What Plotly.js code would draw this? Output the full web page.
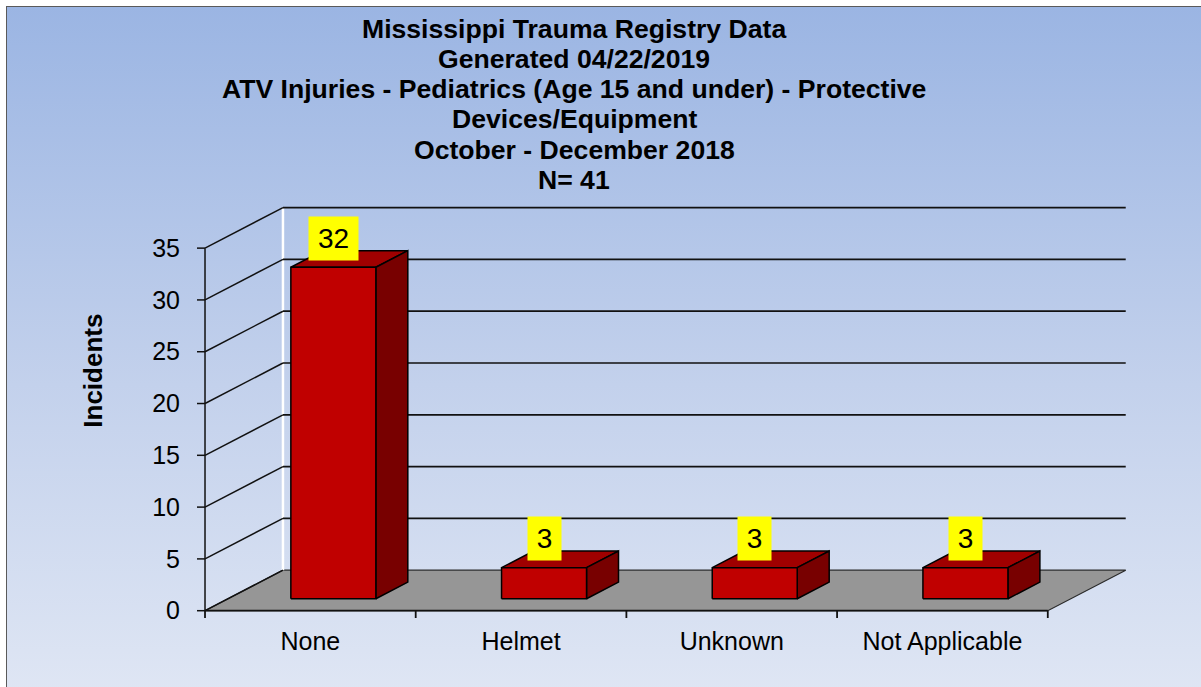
<!DOCTYPE html>
<html><head><meta charset="utf-8">
<script src="https://cdn.plot.ly/plotly-3.0.1.min.js"></script>
<style>
html,body{margin:0;padding:0;background:#fff;overflow:hidden;}
#bg{position:absolute;left:6px;top:6px;width:1201px;height:687px;border-left:1.5px solid #5a5a5a;border-top:1.5px solid #5a5a5a;background:linear-gradient(to bottom,#9bb5e3 0%,#c3d1ec 55%,#dfe6f4 100%);}
#chart{position:absolute;left:0;top:0;width:1201px;height:687px;}
</style></head><body>
<div id="bg"></div><div id="chart"></div>
<script>
// ---- data ----
const categories = ['None', 'Helmet', 'Unknown', 'Not Applicable'];
const incidents = [32, 3, 3, 3];
const yTickValues = [0, 5, 10, 15, 20, 25, 30, 35];
const titleLines = [
  'Mississippi Trauma Registry Data',
  'Generated 04/22/2019',
  'ATV Injuries - Pediatrics (Age 15 and under) - Protective',
  'Devices/Equipment',
  'October - December 2018',
  'N= 41'
];
const yAxisTitle = 'Incidents';

// ---- 3D-look geometry (in axis units) ----
const DX = 0.370, DY = 3.91;      // depth vector
const F0 = 0.295, F1 = 0.705;     // bar front/back depth fraction
const HW = 0.2017;                // half bar width
const X0 = -0.5, X1 = categories.length - 0.5;
const YMAX = yTickValues[yTickValues.length - 1];
const XMIN = -0.538, XMAX = 3.895, YMIN = -0.705, YTOP = 39.26;
const L = 197, R = 70, T = 204, B = 69, W = 1201, H = 687;
const plotW = W - L - R, plotH = H - T - B;
const FONT = '"Liberation Sans", Arial, sans-serif';

const traces = [];
function poly(xs, ys, fill, lc, lw) {
  traces.push({type: 'scatter', mode: 'lines', x: xs.concat([xs[0]]), y: ys.concat([ys[0]]),
    fill: 'toself', fillcolor: fill, line: {color: lc, width: lw}, hoverinfo: 'skip'});
}
function segs(list, color, width) {
  const xs = [], ys = [];
  list.forEach(s => { xs.push(s[0], s[2], null); ys.push(s[1], s[3], null); });
  traces.push({type: 'scatter', mode: 'lines', x: xs, y: ys, line: {color: color, width: width}, hoverinfo: 'skip'});
}

// floor
poly([X0, X1, X1 + DX, X0 + DX], [0, 0, DY, DY], '#969696', '#2a2a2a', 1.2);
// back wall white edge
segs([[X0 + DX, DY, X0 + DX, YMAX + DY]], '#ffffff', 2.5);
// back wall gridlines
segs(yTickValues.filter(v => v > 0).map(v => [X0 + DX, v + DY, X1 + DX, v + DY]), '#111111', 1.7);
// left wall diagonals, front vertical, y tick marks
const lw = yTickValues.map(v => [X0, v, X0 + DX, v + DY]);
lw.push([X0, 0, X0, YMAX]);
yTickValues.forEach(v => lw.push([XMIN, v, X0, v]));
segs(lw, '#111111', 1.5);
// front floor edge and x tick marks
const fe = [[X0, 0, X1, 0]];
for (let i = 0; i <= categories.length; i++) fe.push([X0 + i, 0, X0 + i, YMIN]);
segs(fe, '#111111', 1.8);

// bars
incidents.forEach((v, i) => {
  const xl = i + F0 * DX - HW, xr = i + F0 * DX + HW;
  const bxl = i + F1 * DX - HW, bxr = i + F1 * DX + HW;
  const yb0 = F0 * DY, yb1 = F1 * DY;
  // top
  poly([xl, xr, bxr, bxl], [v + yb0, v + yb0, v + yb1, v + yb1], '#a00000', '#000000', 1.5);
  // side
  poly([xr, bxr, bxr, xr], [yb0, yb1, v + yb1, v + yb0], '#780000', '#000000', 1.5);
  // front
  poly([xl, xr, xr, xl], [yb0, yb0, v + yb0, v + yb0], '#c00000', '#000000', 1.5);
});

const annotations = [];
incidents.forEach((v, i) => {
  const t = String(v);
  annotations.push({x: i + F0 * DX, y: v + F0 * DY, xref: 'x', yref: 'y', text: t, showarrow: false,
    yshift: 29, xanchor: 'center', yanchor: 'middle', bgcolor: '#ffff00', borderpad: 6,
    width: 16 * t.length + 5, height: 31, font: {family: FONT, size: 28, color: '#000'}});
});
titleLines.forEach((s, k) => {
  const py = 28.6 + 30.3 * k;
  annotations.push({x: (574 - L) / plotW, y: (H - B - py) / plotH, xref: 'paper', yref: 'paper',
    text: s, showarrow: false, xanchor: 'center', yanchor: 'middle',
    font: {family: FONT, size: 26.6, color: '#000', weight: 700}});
});
annotations.push({x: (92.7 - L) / plotW, y: (H - B - 371) / plotH, xref: 'paper', yref: 'paper',
  text: yAxisTitle, textangle: -90, showarrow: false, xanchor: 'center', yanchor: 'middle',
  font: {family: FONT, size: 26, color: '#000', weight: 700}});

const layout = {
  width: W, height: H,
  margin: {l: L, r: R, t: T, b: B, pad: 0},
  paper_bgcolor: 'rgba(0,0,0,0)', plot_bgcolor: 'rgba(0,0,0,0)',
  showlegend: false, hovermode: false,
  xaxis: {range: [XMIN, XMAX], tickvals: categories.map((c, i) => i), ticktext: categories,
    ticks: '', showgrid: false, zeroline: false, showline: false, ticklabelstandoff: 6,
    tickfont: {family: FONT, size: 25, color: '#000'}, fixedrange: true},
  yaxis: {range: [YMIN, YTOP], tickvals: yTickValues, ticks: '', showgrid: false, zeroline: false,
    showline: false, ticklabelstandoff: 16, tickfont: {family: FONT, size: 25, color: '#000'}, fixedrange: true},
  annotations: annotations
};
Plotly.newPlot('chart', traces, layout, {staticPlot: true, displayModeBar: false});
</script>
</body></html>
